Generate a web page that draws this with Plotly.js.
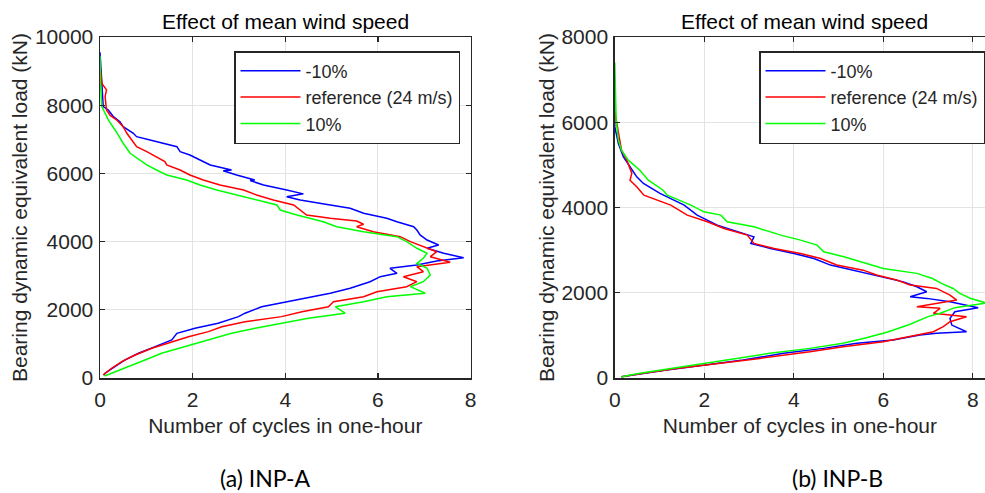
<!DOCTYPE html>
<html>
<head>
<meta charset="utf-8">
<script src="https://cdn.plot.ly/plotly-3.0.1.min.js"></script>
<style>html,body{margin:0;padding:0;background:#fff;}#chart{width:985px;height:493px;}</style>
</head>
<body>
<div id="chart"></div>
<script>
// ---------- Data ----------
var seriesNames = ['-10%', 'reference (24 m/s)', '10%'];
var panelTitles = ['Effect of mean wind speed', 'Effect of mean wind speed'];
var panelCaptions = ['(a) INP-A', '(b) INP-B'];
var xAxisTitle = 'Number of cycles in one-hour';
var yAxisTitle = 'Bearing dynamic equivalent load (kN)';
var xTicks = [0, 2, 4, 6, 8];
var yTicksA = [0, 2000, 4000, 6000, 8000, 10000];
var yTicksB = [0, 2000, 4000, 6000, 8000];

// Panel A (INP-A): cycles (x) vs load (y)
var A_m10_x = [0.00,0.02,0.05,0.07,0.18,0.29,0.43,0.50,0.72,0.79,1.08,1.44,1.66,1.73,1.94,2.16,2.38,2.84,2.66,2.95,3.34,3.24,3.53,4.03,4.39,4.03,4.32,4.97,5.40,5.69,6.19,6.41,6.77,6.84,6.91,7.06,7.31,7.06,7.42,7.85,7.27,6.84,6.26,6.41,6.05,5.83,5.40,4.97,4.39,3.89,3.49,3.13,2.99,2.55,2.05,1.66,1.55,1.19,0.83,0.54,0.32,0.11,0.08];
var A_m10_y = [9550,9000,8400,7960,7860,7664,7517,7370,7177,7077,6981,6860,6784,6637,6540,6394,6247,6100,6080,5954,5807,5790,5661,5514,5400,5318,5221,5074,4977,4830,4684,4584,4438,4341,4194,4047,3901,3804,3657,3528,3431,3314,3217,3071,2971,2824,2631,2484,2338,2191,2090,1900,1800,1605,1460,1310,1115,920,725,530,330,140,80];

var A_ref_x = [0.00,0.02,0.04,0.14,0.11,0.14,0.22,0.36,0.50,0.58,0.68,0.79,1.01,1.22,1.40,1.44,1.73,1.94,2.23,2.59,3.10,3.38,3.74,4.18,4.32,4.46,4.97,5.54,5.69,5.54,5.90,6.48,6.70,6.98,7.27,7.13,7.56,6.84,6.98,6.55,6.84,6.62,5.98,5.69,5.04,4.93,4.36,3.92,3.13,2.63,2.34,1.91,1.58,1.12,0.76,0.47,0.25,0.07];
var A_ref_y = [9200,8800,8640,8450,8250,7860,7700,7567,7370,7177,6981,6784,6637,6491,6344,6247,6100,5954,5807,5661,5514,5368,5221,5074,4927,4781,4684,4605,4508,4438,4291,4144,3998,3851,3704,3558,3393,3265,3118,2971,2824,2678,2531,2385,2238,2090,1945,1800,1650,1505,1360,1210,1065,870,675,480,285,90];

var A_p10_x = [0.00,0.01,0.04,0.14,0.18,0.36,0.50,0.65,0.86,1.01,1.22,1.44,1.87,2.16,2.52,2.95,3.38,3.82,3.89,4.25,4.82,5.11,5.69,6.41,6.62,6.84,7.06,6.98,6.84,7.06,7.13,6.98,6.70,7.02,6.19,5.69,5.08,5.29,4.50,3.92,3.35,2.84,2.34,1.84,1.33,0.97,0.61,0.25,0.10];
var A_p10_y = [9450,8640,7960,7664,7570,7200,6884,6590,6394,6247,6100,5954,5807,5661,5514,5368,5221,5074,4927,4781,4584,4438,4291,4144,3998,3804,3657,3511,3364,3217,3021,2824,2678,2484,2385,2238,2090,1900,1750,1605,1460,1310,1115,920,725,530,330,140,60];

// Panel B (INP-B)
var B_m10_x = [0.00,0.00,0.08,0.19,0.34,0.49,0.64,1.01,1.55,1.84,2.29,2.74,3.11,3.04,3.48,4.00,4.45,4.82,5.33,5.78,6.45,6.75,6.97,6.60,6.97,7.49,7.86,8.12,7.60,7.49,7.53,7.86,7.19,6.82,6.22,5.41,4.66,3.77,2.87,2.05,1.16,0.15];
var B_m10_y = [6650,5890,5500,5190,4955,4720,4565,4330,4055,3821,3586,3429,3312,3157,3040,2923,2805,2649,2530,2415,2255,2140,2023,1906,1868,1789,1711,1648,1554,1399,1242,1085,1048,1008,890,815,695,580,420,305,190,30];

var B_ref_x = [0.00,0.08,0.15,0.27,0.38,0.34,0.49,0.65,1.25,1.62,2.07,2.44,2.96,3.11,3.56,4.15,4.60,4.96,5.55,5.85,6.30,6.60,7.19,7.49,7.64,6.75,7.27,7.12,7.86,7.49,7.34,7.12,6.60,6.00,5.10,4.36,3.24,2.35,1.38,0.64,0.15];
var B_ref_y = [6250,5735,5345,5110,4800,4640,4485,4290,4055,3821,3665,3509,3352,3157,3040,2923,2805,2650,2530,2415,2300,2180,2102,1946,1828,1672,1634,1517,1437,1320,1203,1085,970,850,735,615,460,345,225,110,30];

var B_p10_x = [0.00,0.03,0.08,0.15,0.30,0.56,0.75,1.08,1.17,1.70,1.99,2.37,2.51,3.11,3.71,4.15,4.52,4.67,5.12,5.63,6.00,6.75,7.10,7.30,7.56,7.71,7.94,8.30,7.60,7.27,7.00,6.60,6.10,5.60,5.10,4.36,3.47,2.72,1.98,1.23,0.56,0.15];
var B_p10_y = [7400,6050,5580,5345,5110,4875,4640,4405,4290,4055,3899,3821,3665,3547,3352,3235,3118,2961,2844,2690,2570,2455,2335,2220,2100,1985,1870,1760,1650,1520,1440,1260,1080,940,815,695,580,460,345,225,110,30];

// ---------- Styling ----------
var colors = ['#0000ff', '#ff0000', '#00ff00'];
var W = 985, H = 493;
var fontMain = 'Liberation Sans, Arial, sans-serif';
var txt = '#262626';

function tr(x, y, i, xa, ya) {
  return {x: x, y: y, type: 'scatter', mode: 'lines', name: seriesNames[i],
    line: {color: colors[i], width: 1.5}, xaxis: xa, yaxis: ya,
    showlegend: true, legend: xa === 'x' ? 'legend' : 'legend2', hoverinfo: 'skip'};
}

var data = [
  tr(A_m10_x, A_m10_y, 0, 'x', 'y'),
  tr(A_ref_x, A_ref_y, 1, 'x', 'y'),
  tr(A_p10_x, A_p10_y, 2, 'x', 'y'),
  tr(B_m10_x, B_m10_y, 0, 'x2', 'y2'),
  tr(B_ref_x, B_ref_y, 1, 'x2', 'y2'),
  tr(B_p10_x, B_p10_y, 2, 'x2', 'y2')
];

// pixel-space plot boxes
var A = {l: 100, r: 470.6, t: 37, b: 378};
var B = {l: 614.8, r: 985, t: 37, b: 378};
function px(v) { return v / W; }
function py(v) { return 1 - v / H; }

function xax(domain, range, mirror) {
  return {domain: domain, range: range, autorange: false, tickvals: xTicks,
    ticktext: xTicks.map(String), showgrid: true, gridcolor: '#e3e3e3', gridwidth: 1,
    zeroline: false, showline: true, linecolor: txt, linewidth: 1.5, mirror: mirror,
    ticks: 'inside', ticklen: 5, tickcolor: txt, tickwidth: 1.2,
    tickfont: {family: fontMain, size: 21, color: txt}, ticklabelstandoff: 2,
    title: {text: xAxisTitle, font: {family: fontMain, size: 21, color: txt}, standoff: 8}};
}
function yax(domain, range, ticks, anchor, mirror) {
  return {domain: domain, range: range, autorange: false, tickvals: ticks,
    ticktext: ticks.map(String), showgrid: true, gridcolor: '#e3e3e3', gridwidth: 1,
    zeroline: false, showline: true, linecolor: txt, linewidth: 1.5, mirror: mirror,
    ticks: 'inside', ticklen: 5, tickcolor: txt, tickwidth: 1.2, anchor: anchor,
    tickfont: {family: fontMain, size: 21, color: txt}, ticklabelstandoff: 1,
    title: {text: yAxisTitle, font: {family: fontMain, size: 21, color: txt}, standoff: 1}};
}

var xrA = [0, 8];
var xrB = [0, (B.r - B.l) / 44.75];

var layout = {
  width: W, height: H, paper_bgcolor: '#fff', plot_bgcolor: '#fff',
  margin: {l: 0, r: 0, t: 0, b: 0},
  showlegend: true,
  xaxis: xax([px(A.l), px(A.r)], xrA, 'ticks'),
  yaxis: yax([py(A.b), py(A.t)], [0, 10000], yTicksA, 'x', 'ticks'),
  xaxis2: Object.assign(xax([px(B.l), 1], xrB, 'ticks'), {anchor: 'y2'}),
  yaxis2: yax([py(B.b), py(B.t)], [0, 8000], yTicksB, 'x2', false),
  legend: {x: px(234), y: py(51), xanchor: 'left', yanchor: 'top',
    bgcolor: '#fff', bordercolor: txt, borderwidth: 1.5,
    font: {family: fontMain, size: 18, color: txt}, itemwidth: 60, tracegroupgap: 0},
  legend2: {x: px(759), y: py(51), xanchor: 'left', yanchor: 'top',
    bgcolor: '#fff', bordercolor: txt, borderwidth: 1.5,
    font: {family: fontMain, size: 18, color: txt}, itemwidth: 60, tracegroupgap: 0},
  annotations: [
    {text: panelTitles[0], x: px(285), y: py(21), xref: 'paper', yref: 'paper',
     xanchor: 'center', yanchor: 'middle', showarrow: false,
     font: {family: fontMain, size: 21, color: '#000'}},
    {text: panelTitles[1], x: px(804), y: py(21), xref: 'paper', yref: 'paper',
     xanchor: 'center', yanchor: 'middle', showarrow: false,
     font: {family: fontMain, size: 21, color: '#000'}},
    {text: panelCaptions[0], x: px(265), y: py(478), xref: 'paper', yref: 'paper',
     xanchor: 'center', yanchor: 'middle', showarrow: false,
     font: {family: 'Lato, Open Sans, sans-serif', size: 23, color: '#000'}},
    {text: panelCaptions[1], x: px(837), y: py(478), xref: 'paper', yref: 'paper',
     xanchor: 'center', yanchor: 'middle', showarrow: false,
     font: {family: 'Lato, Open Sans, sans-serif', size: 23, color: '#000'}}
  ]
};

Plotly.newPlot('chart', data, layout, {staticPlot: true, displayModeBar: false});
</script>
</body>
</html>
